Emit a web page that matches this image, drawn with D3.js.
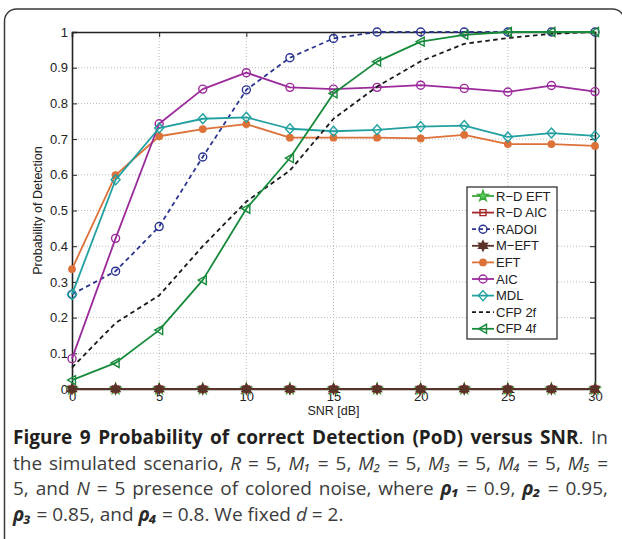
<!DOCTYPE html>
<html><head><meta charset="utf-8">
<script src="https://cdn.jsdelivr.net/npm/d3@7"></script>
<style>body{margin:0;background:#fff}svg{display:block}</style>
</head><body><svg id="c" width="622" height="539"></svg>
<script>
// ---------- DATA ----------
const snr = [0, 2.5, 5, 7.5, 10, 12.5, 15, 17.5, 20, 22.5, 25, 27.5, 30];
const rdEFT = [0, 0, 0, 0, 0, 0, 0, 0, 0, 0, 0, 0, 0];
const rdAIC = [0, 0, 0, 0, 0, 0, 0, 0, 0, 0, 0, 0, 0];
const radoi = [0.265, 0.330, 0.455, 0.650, 0.838, 0.928, 0.982, 1, 1, 1, 1, 1, 1];
const mEFT  = [0, 0, 0, 0, 0, 0, 0, 0, 0, 0, 0, 0, 0];
const eft   = [0.336, 0.599, 0.708, 0.728, 0.742, 0.704, 0.704, 0.704, 0.702, 0.712, 0.686, 0.686, 0.681];
const aic   = [0.085, 0.422, 0.743, 0.840, 0.886, 0.845, 0.840, 0.845, 0.851, 0.842, 0.832, 0.850, 0.833];
const mdl   = [0.265, 0.586, 0.731, 0.757, 0.761, 0.729, 0.722, 0.726, 0.735, 0.738, 0.706, 0.717, 0.709];
const cfp2f = [0.060, 0.185, 0.262, 0.400, 0.525, 0.612, 0.757, 0.847, 0.918, 0.967, 0.983, 0.995, 1];
const cfp4f = [0.025, 0.073, 0.165, 0.305, 0.505, 0.647, 0.828, 0.917, 0.973, 0.992, 1, 1, 1];
const seriesNames = ["R\u2212D EFT", "R\u2212D AIC", "RADOI", "M\u2212EFT", "EFT", "AIC", "MDL", "CFP 2f", "CFP 4f"];
const xTicks = [0, 5, 10, 15, 20, 25, 30];
const yTicks = [0, 0.1, 0.2, 0.3, 0.4, 0.5, 0.6, 0.7, 0.8, 0.9, 1];
const yTickLabels = ["0", "0.1", "0.2", "0.3", "0.4", "0.5", "0.6", "0.7", "0.8", "0.9", "1"];
const xLabel = "SNR [dB]";
const yLabel = "Probability of Detection";

// ---------- STYLES ----------
const styles = [
  {color: "#3aa83a", marker: "star", fill: "#5fd35f", dash: null},
  {color: "#a3262a", marker: "square", fill: "none", dash: null},
  {color: "#2b3590", marker: "circle", fill: "none", dash: "4.5,3.5"},
  {color: "#5a3328", marker: "hexagram", fill: "#5a3328", dash: null},
  {color: "#dc7139", marker: "dot", fill: "#dc7139", dash: null},
  {color: "#9b2a9b", marker: "circle", fill: "none", dash: null},
  {color: "#22a0a0", marker: "diamond", fill: "none", dash: null},
  {color: "#1a1a1a", marker: null, fill: "none", dash: "4.5,3.5"},
  {color: "#178a3c", marker: "triLeft", fill: "none", dash: null}
];
const values = [rdEFT, rdAIC, radoi, mEFT, eft, aic, mdl, cfp2f, cfp4f];

const svg = d3.select("#c");
const FONT = "'Liberation Sans', Arial, sans-serif";

// outer frame
svg.append("rect").attr("x", 4.5).attr("y", 9).attr("width", 620).attr("height", 560)
  .attr("rx", 12).attr("fill", "none").attr("stroke", "#3a3a3a").attr("stroke-width", 1.5);

const L = 72, R = 595, T = 32, B = 389;
const x = d3.scaleLinear().domain([0, 30]).range([L, R]);
const y = d3.scaleLinear().domain([0, 1]).range([B, T]);

// grid
const grid = svg.append("g");
grid.selectAll("line.gx").data(xTicks.filter(d => d > 0 && d < 30)).join("line")
  .attr("x1", d => x(d)).attr("x2", d => x(d)).attr("y1", T).attr("y2", B)
  .attr("stroke", "#a8a8a8").attr("stroke-width", 0.8).attr("stroke-dasharray", "1,2");
grid.selectAll("line.gy").data(yTicks.filter(d => d > 0 && d < 1)).join("line")
  .attr("y1", d => y(d)).attr("y2", d => y(d)).attr("x1", L).attr("x2", R)
  .attr("stroke", "#a8a8a8").attr("stroke-width", 0.8).attr("stroke-dasharray", "1,2");

// axes with inward ticks
const axB = svg.append("g").attr("transform", `translate(0,${B})`)
  .call(d3.axisBottom(x).tickValues(xTicks).tickSize(-5).tickPadding(4).tickFormat(d3.format("d")));
const axT = svg.append("g").attr("transform", `translate(0,${T})`)
  .call(d3.axisTop(x).tickValues(xTicks).tickSize(-5).tickFormat(""));
const axL = svg.append("g").attr("transform", `translate(${L},0)`)
  .call(d3.axisLeft(y).tickValues(yTicks).tickSize(-5).tickPadding(4).tickFormat((d, i) => yTickLabels[i]));
const axR = svg.append("g").attr("transform", `translate(${R},0)`)
  .call(d3.axisRight(y).tickValues(yTicks).tickSize(-5).tickFormat(""));
[axB, axT, axL, axR].forEach(a => {
  a.select(".domain").attr("stroke", "#222").attr("stroke-width", 1.6);
  a.selectAll(".tick line").attr("stroke", "#222").attr("stroke-width", 1);
  a.selectAll("text").attr("font-family", FONT).attr("font-size", 13).attr("fill", "#222");
});
axB.selectAll(".tick text").attr("dy", "0.6em");
axB.selectAll(".tick").filter(d => d === 0 || d === 30).select("line").remove();
axT.selectAll(".tick").filter(d => d === 0 || d === 30).select("line").remove();
axL.selectAll(".tick").filter(d => d === 0 || d === 1).select("line").remove();
axR.selectAll(".tick").filter(d => d === 0 || d === 1).select("line").remove();

// axis labels
svg.append("text").attr("x", (L + R) / 2).attr("y", 414.5).attr("text-anchor", "middle")
  .attr("font-family", FONT).attr("font-size", 12.5).attr("fill", "#222").text(xLabel);
svg.append("text").attr("transform", `translate(42,${(T + B) / 2}) rotate(-90)`).attr("text-anchor", "middle")
  .attr("font-family", FONT).attr("font-size", 12.5).attr("fill", "#222").text(yLabel);

// markers
function starPath(n, ro, ri) {
  const p = [];
  for (let i = 0; i < 2 * n; i++) {
    const r = i % 2 === 0 ? ro : ri;
    const a = -Math.PI / 2 + i * Math.PI / n;
    p.push([r * Math.cos(a), r * Math.sin(a)]);
  }
  return "M" + p.map(q => q[0].toFixed(2) + "," + q[1].toFixed(2)).join("L") + "Z";
}
function markerPath(type) {
  switch (type) {
    case "star": return starPath(5, 5.5, 2.2);
    case "hexagram": return starPath(6, 5, 2.6);
    case "square": return "M-3,-3L3,-3L3,3L-3,3Z";
    case "circle": return d3.arc()({innerRadius: 0, outerRadius: 4, startAngle: 0, endAngle: 2 * Math.PI});
    case "dot": return d3.arc()({innerRadius: 0, outerRadius: 3.2, startAngle: 0, endAngle: 2 * Math.PI});
    case "diamond": return "M0,-5L4.5,0L0,5L-4.5,0Z";
    case "triLeft": return "M-4.5,0L3.5,-4.5L3.5,4.5Z";
  }
  return null;
}

const line = d3.line().x((d, i) => x(snr[i])).y(d => y(d));
const plot = svg.append("g");
values.forEach((vals, k) => {
  const s = styles[k];
  const g = plot.append("g");
  g.append("path").datum(vals).attr("d", line).attr("fill", "none")
    .attr("stroke", s.color).attr("stroke-width", k === 3 ? 2.2 : 1.8)
    .attr("stroke-dasharray", s.dash).attr("stroke-linejoin", "round");
  if (s.marker) {
    g.selectAll("path.m").data(vals).join("path").attr("class", "m")
      .attr("d", markerPath(s.marker))
      .attr("transform", (d, i) => `translate(${x(snr[i])},${y(d)})`)
      .attr("fill", s.fill).attr("stroke", s.color).attr("stroke-width", 1.4);
  }
});

// legend
const lg = svg.append("g");
const lx = 467, ly = 187, lw = 90, lh = 152;
lg.append("rect").attr("x", lx).attr("y", ly).attr("width", lw).attr("height", lh)
  .attr("fill", "#fff").attr("stroke", "#222").attr("stroke-width", 1.2);
seriesNames.forEach((name, k) => {
  const s = styles[k];
  const cy = 196 + k * 16.6;
  lg.append("line").attr("x1", 472).attr("x2", 494).attr("y1", cy).attr("y2", cy)
    .attr("stroke", s.color).attr("stroke-width", 1.8).attr("stroke-dasharray", s.dash ? "4,3" : null);
  if (s.marker) {
    lg.append("path").attr("d", markerPath(s.marker)).attr("transform", `translate(483,${cy})`)
      .attr("fill", s.fill).attr("stroke", s.color).attr("stroke-width", 1.4);
  }
  lg.append("text").attr("x", 496).attr("y", cy).attr("dy", "0.36em")
    .attr("font-family", FONT).attr("font-size", 13).attr("fill", "#222").text(name);
});

// caption (subscripts as Unicode subscript digits, in the same run as their symbol)
const CF = "'Open Sans', 'Noto Sans', sans-serif";
const capLines = [
  [["b", "Figure 9 Probability of correct Detection (PoD) versus SNR"], ["r", ". In"]],
  [["r", "the simulated scenario, "], ["i", "R"], ["r", " = 5, "], ["i", "M\u2081"], ["r", " = 5, "], ["i", "M\u2082"],
   ["r", " = 5, "], ["i", "M\u2083"], ["r", " = 5, "], ["i", "M\u2084"], ["r", " = 5, "], ["i", "M\u2085"], ["r", " ="]],
  [["r", "5, and "], ["i", "N"], ["r", " = 5 presence of colored noise, where "], ["bi", "\u03C1\u2081"], ["r", " = 0.9, "],
   ["bi", "\u03C1\u2082"], ["r", " = 0.95,"]],
  [["bi", "\u03C1\u2083"], ["r", " = 0.85, and "], ["bi", "\u03C1\u2084"], ["r", " = 0.8. We fixed "], ["i", "d"], ["r", " = 2."]]
];
const capX = 13, capRight = 608, capY = [444, 469.5, 495, 520.5];
capLines.forEach((segs, li) => {
  const t = svg.append("text").attr("x", capX).attr("y", capY[li])
    .attr("font-family", CF).attr("font-size", 19).attr("fill", "#3c3c3c");
  segs.forEach(([kind, str]) => {
    const ts = t.append("tspan").text(str);
    if (kind === "b") ts.attr("font-weight", "bold").attr("fill", "#231f20");
    if (kind === "i") ts.attr("font-style", "italic");
    if (kind === "bi") ts.attr("font-weight", "bold").attr("font-style", "italic").attr("fill", "#2a2a2a");
  });
  if (li < capLines.length - 1) {
    const len = t.node().getComputedTextLength();
    const spaces = segs.map(s => s[1]).join("").split(" ").length - 1;
    t.attr("word-spacing", ((capRight - capX - len) / spaces).toFixed(3));
  }
});
</script></body></html>
